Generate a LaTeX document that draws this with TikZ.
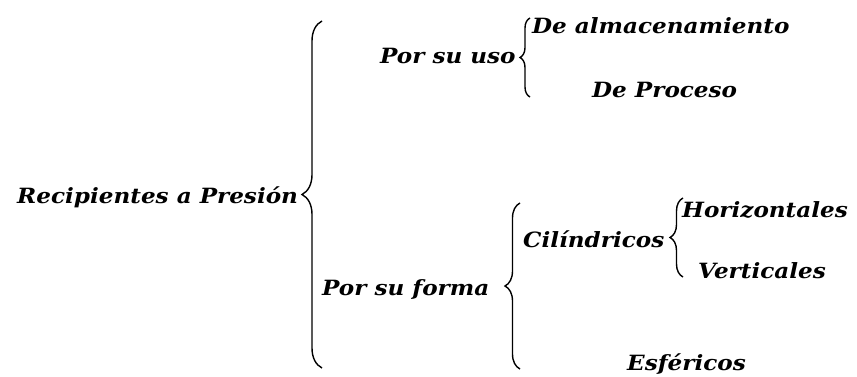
\documentclass[tikz,border=0pt]{standalone}
\usepackage{fontspec}
\setmainfont{DejaVu Serif}[FakeStretch=1.1]
\usetikzlibrary{decorations.pathreplacing}
\tikzset{
  lbl/.style={anchor=base west, inner sep=0pt, font=\fontsize{21}{21}\selectfont\bfseries\itshape},
  brc/.style={decorate, decoration={brace, amplitude=#1}, line width=1.4pt}
}
\begin{document}
\begin{tikzpicture}[x=1pt,y=1pt]
\useasboundingbox (0,0) rectangle (857,376);
% labels
\node[lbl] (rec) at (17,173) {Recipientes a Presión};
\node[lbl] (uso) at (380,313) {Por su uso};
\node[lbl] (alm) at (532,343) {De almacenamiento};
\node[lbl] (pro) at (592,279) {De Proceso};
\node[lbl] (for) at (322,81) {Por su forma};
\node[lbl] (cil) at (523,129) {Cilíndricos};
\node[lbl] (hor) at (682,159) {Horizontales};
\node[lbl] (ver) at (698,98) {Verticales};
\node[lbl] (esf) at (627,6) {Esféricos};
% brace end points
\coordinate (b1s) at (322,8);   \coordinate (b1e) at (322,355);
\coordinate (b2s) at (530,279); \coordinate (b2e) at (530,358);
\coordinate (b3s) at (520,7);   \coordinate (b3e) at (520,173);
\coordinate (b4s) at (683,99);  \coordinate (b4e) at (683,178);
\draw[brc=20] (b1s) -- (b1e);
\draw[brc=10] (b2s) -- (b2e);
\draw[brc=15] (b3s) -- (b3e);
\draw[brc=13] (b4s) -- (b4e);
\end{tikzpicture}
\end{document}
